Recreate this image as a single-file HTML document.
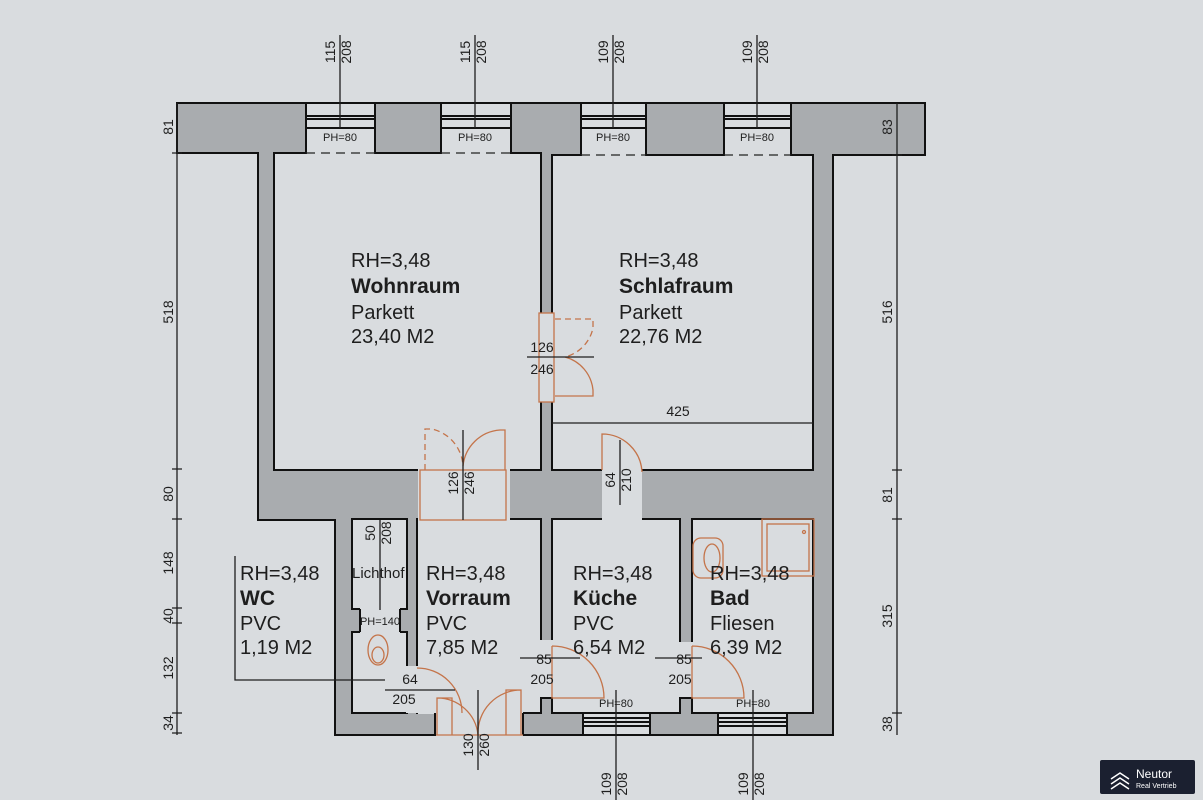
<!DOCTYPE html>
<html><head><meta charset="utf-8"><style>
html,body{margin:0;padding:0;background:#d9dcdf;}
svg{display:block;}
text{font-family:"Liberation Sans",sans-serif;fill:#1e1e1e;}
</style></head><body>
<svg width="1203" height="800" viewBox="0 0 1203 800" xmlns="http://www.w3.org/2000/svg">
<rect width="1203" height="800" fill="#d9dcdf"/>
<path d="M177 103 H925 V155 H833 V735 H335 V520 H258 V153 H177 Z" fill="#a9acaf" stroke="#111" stroke-width="2"/>
<g fill="#d9dcdf" stroke="#111" stroke-width="2">
<rect x="274" y="153" width="267" height="317"/>
<rect x="552" y="155" width="261" height="315"/>
<rect x="352" y="519" width="55" height="90"/>
<rect x="352" y="632" width="55" height="81"/>
<rect x="417" y="519" width="124" height="194"/>
<rect x="552" y="519" width="128" height="194"/>
<rect x="692" y="519" width="121" height="194"/>
</g>
<g fill="#d9dcdf">
<rect x="307" y="104" width="67" height="51"/>
<rect x="442" y="104" width="68" height="51"/>
<rect x="582" y="104" width="63" height="53"/>
<rect x="725" y="104" width="65" height="53"/>
<rect x="540" y="313" width="13" height="89"/>
<rect x="418" y="469" width="92" height="52"/>
<rect x="602" y="469" width="40" height="52"/>
<rect x="360" y="608" width="40" height="25"/>
<rect x="540" y="640" width="13" height="58"/>
<rect x="679" y="642" width="14" height="56"/>
<rect x="406" y="666" width="12" height="47"/>
<rect x="436" y="712" width="87" height="24"/>
<rect x="418" y="712" width="123" height="2"/>
<rect x="583" y="714" width="67" height="21"/>
<rect x="718" y="714" width="69" height="21"/>
</g>
<g stroke="#111" stroke-width="2" fill="none">
<path d="M306 103 H375 M306 116 H375 M306 119 H375 M306 128 H375"/>
<path d="M441 103 H511 M441 116 H511 M441 119 H511 M441 128 H511"/>
<path d="M581 103 H646 M581 116 H646 M581 119 H646 M581 128 H646"/>
<path d="M724 103 H791 M724 116 H791 M724 119 H791 M724 128 H791"/>
<path d="M583 735 H650 M583 718 H650 M583 722 H650 M583 726 H650"/>
<path d="M718 735 H787 M718 718 H787 M718 722 H787 M718 726 H787"/>
<path d="M583 713 V735 M650 713 V735 M718 713 V735 M787 713 V735"/>
<path d="M375 103 V153 M441 103 V153 M511 103 V153 M581 103 V155 M646 103 V155 M724 103 V155 M791 103 V155 M306 103 V153"/>
<path d="M435 713 V735 M523 713 V735 M523 713 H541 V698 H552 V713 H583"/>
<path d="M650 713 H680 V698 H692 V713 H718"/>
<path d="M360 609 V632 M400 609 V632"/>
</g>
<g stroke="#222" stroke-width="1.3" stroke-dasharray="9,6" fill="none">
<path d="M306 153 H375 M441 153 H511 M581 155 H646 M724 155 H791"/>
</g>
<g stroke="#c4744a" stroke-width="1.3" fill="none">
<rect x="539" y="313" width="15" height="89"/>
<path d="M555 319 H593 V328 A 38 38 0 0 1 565 357" stroke-dasharray="6,4"/>
<path d="M565 357 A 38 38 0 0 1 593 390 V396 H555"/>
<rect x="420" y="470" width="86" height="50"/>
<path d="M425 470 V429 H432 A 40 40 0 0 1 463 466" stroke-dasharray="6,4"/>
<path d="M463 466 A 40 40 0 0 1 500 430 H505 V470"/>
<path d="M602 470 V434 A 40 40 0 0 1 642 472"/>
<path d="M552 646 V698 H604 A 52 52 0 0 0 552 646"/>
<path d="M692 646 V698 H744 A 52 52 0 0 0 692 646"/>
<path d="M417 668 A 45 45 0 0 1 462 713"/>
<path d="M437 735 V698 H452 V735 M437 698 A 41 41 0 0 1 478 735"/>
<path d="M521 735 V690 H506 V735 M521 690 A 43 43 0 0 0 478 735"/>
<path d="M436 735 H523"/>
<ellipse cx="378" cy="650" rx="10" ry="15"/>
<ellipse cx="378" cy="655" rx="6" ry="8"/>
<rect x="693" y="538" width="30" height="40" rx="8"/>
<ellipse cx="712" cy="558" rx="8" ry="14"/>
<rect x="762" y="519" width="52" height="57"/>
<rect x="767" y="524" width="42" height="47"/>
<circle cx="804" cy="532" r="1.5"/>
</g>
<g stroke="#1e1e1e" stroke-width="1.3" fill="none">
<path d="M340 35 V128 M475 35 V128 M613 35 V128 M757 35 V128"/>
<path d="M616 690 V800 M753 690 V800"/>
<path d="M177 103 V735 M897 103 V735"/>
<path d="M172 153 H182 M172 469 H182 M172 519 H182 M172 608 H182 M172 623 H182 M172 713 H182 M172 733 H182"/>
<path d="M892 155 H902 M892 470 H902 M892 519 H902 M892 713 H902"/>
<path d="M527 357 H594 M552 423 H813 M463 430 V520 M620 440 V505 M380 520 V610"/>
<path d="M385 690 H455 M478 690 V770 M520 658 H580 M655 658 H702"/>
<path d="M235 556 V680 H385"/>
</g>
<g font-size="14" text-anchor="middle">
<text transform="translate(335,52) rotate(-90)">115</text><text transform="translate(351,52) rotate(-90)">208</text>
<text transform="translate(470,52) rotate(-90)">115</text><text transform="translate(486,52) rotate(-90)">208</text>
<text transform="translate(608,52) rotate(-90)">109</text><text transform="translate(624,52) rotate(-90)">208</text>
<text transform="translate(752,52) rotate(-90)">109</text><text transform="translate(768,52) rotate(-90)">208</text>
<text transform="translate(611,784) rotate(-90)">109</text><text transform="translate(627,784) rotate(-90)">208</text>
<text transform="translate(748,784) rotate(-90)">109</text><text transform="translate(764,784) rotate(-90)">208</text>
<text transform="translate(173,127) rotate(-90)">81</text>
<text transform="translate(173,312) rotate(-90)">518</text>
<text transform="translate(173,494) rotate(-90)">80</text>
<text transform="translate(173,563) rotate(-90)">148</text>
<text transform="translate(173,616) rotate(-90)">40</text>
<text transform="translate(173,668) rotate(-90)">132</text>
<text transform="translate(173,723) rotate(-90)">34</text>
<text transform="translate(892,127) rotate(-90)">83</text>
<text transform="translate(892,312) rotate(-90)">516</text>
<text transform="translate(892,495) rotate(-90)">81</text>
<text transform="translate(892,616) rotate(-90)">315</text>
<text transform="translate(892,724) rotate(-90)">38</text>
<text transform="translate(458,483) rotate(-90)">126</text><text transform="translate(474,483) rotate(-90)">246</text>
<text transform="translate(615,480) rotate(-90)">64</text><text transform="translate(631,480) rotate(-90)">210</text>
<text transform="translate(375,533) rotate(-90)">50</text><text transform="translate(391,533) rotate(-90)">208</text>
<text transform="translate(473,745) rotate(-90)">130</text><text transform="translate(489,745) rotate(-90)">260</text>
</g>
<g font-size="14" text-anchor="middle">
<text x="542" y="352">126</text><text x="542" y="374">246</text>
<text x="678" y="416">425</text>
<text x="410" y="684">64</text><text x="404" y="704">205</text>
<text x="544" y="664">85</text><text x="542" y="684">205</text>
<text x="684" y="664">85</text><text x="680" y="684">205</text>
</g>
<g font-size="11" text-anchor="middle">
<text x="340" y="141">PH=80</text><text x="475" y="141">PH=80</text>
<text x="613" y="141">PH=80</text><text x="757" y="141">PH=80</text>
<text x="380" y="625">PH=140</text>
<text x="616" y="707">PH=80</text><text x="753" y="707">PH=80</text>
</g>
<text x="352" y="578" font-size="15">Lichthof</text>
<g font-size="20">
<text x="351" y="267">RH=3,48</text><text x="351" y="293" font-weight="bold" font-size="21">Wohnraum</text><text x="351" y="319">Parkett</text><text x="351" y="343">23,40  M2</text>
<text x="619" y="267">RH=3,48</text><text x="619" y="293" font-weight="bold" font-size="21">Schlafraum</text><text x="619" y="319">Parkett</text><text x="619" y="343">22,76  M2</text>
<text x="240" y="580">RH=3,48</text><text x="240" y="605" font-weight="bold" font-size="21">WC</text><text x="240" y="630">PVC</text><text x="240" y="654">1,19  M2</text>
<text x="426" y="580">RH=3,48</text><text x="426" y="605" font-weight="bold" font-size="21">Vorraum</text><text x="426" y="630">PVC</text><text x="426" y="654">7,85  M2</text>
<text x="573" y="580">RH=3,48</text><text x="573" y="605" font-weight="bold" font-size="21">Küche</text><text x="573" y="630">PVC</text><text x="573" y="654">6,54  M2</text>
<text x="710" y="580">RH=3,48</text><text x="710" y="605" font-weight="bold" font-size="21">Bad</text><text x="710" y="630">Fliesen</text><text x="710" y="654">6,39  M2</text>
</g>
<rect x="1100" y="760" width="95" height="34" rx="2" fill="#1b2030"/>
<path d="M1111 779 L1120 773 L1129 779 M1111 784 L1120 778 L1129 784 M1111 789 L1120 783 L1129 789" stroke="#fff" stroke-width="1.5" fill="none"/>
<text x="1136" y="778" font-size="12" style="fill:#fff">Neutor</text>
<text x="1136" y="788" font-size="7" style="fill:#fff">Real Vertrieb</text>
</svg>
</body></html>
